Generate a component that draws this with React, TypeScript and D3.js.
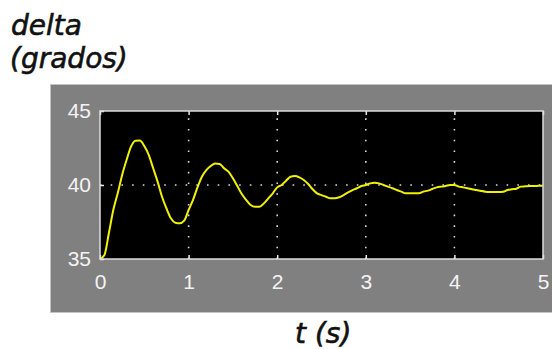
import React, { useEffect, useRef } from 'react';
import * as d3 from 'd3';

const STEP = 0.05;
const deltaValues = [
  35.0, 35.27, 36.74, 38.31, 39.44, 40.68, 41.69, 42.59, 42.99, 43.0,
  42.63, 42.03, 41.13, 40.23, 39.21, 38.42, 37.75, 37.45, 37.41, 37.59,
  38.31, 38.99, 39.84, 40.56, 41.01, 41.28, 41.46, 41.42, 41.13, 40.9,
  40.45, 39.93, 39.39, 38.99, 38.65, 38.53, 38.53, 38.76, 39.1, 39.44,
  39.84, 40.0, 40.29, 40.56, 40.6, 40.52, 40.34, 40.07, 39.71, 39.44,
  39.32, 39.21, 39.1, 39.1, 39.17, 39.32, 39.5, 39.66, 39.78, 39.93,
  40.0, 40.11, 40.16, 40.11, 40.0, 39.89, 39.78, 39.66, 39.55, 39.44,
  39.44, 39.44, 39.44, 39.55, 39.62, 39.73, 39.84, 39.89, 39.93, 40.0,
  40.0, 39.89, 39.84, 39.78, 39.71, 39.66, 39.6, 39.55, 39.53, 39.53,
  39.53, 39.55, 39.66, 39.71, 39.75, 39.89, 39.91, 39.93, 39.93, 39.95,
  39.95,
];
const xTicks = [0, 1, 2, 3, 4, 5];
const yTicks = [35, 40, 45];
const xGrid = [1, 2, 3, 4];
const yGrid = [40];

const width = 552;
const height = 349;
const plot = { left: 100, right: 543, top: 111, bottom: 259 };

const App = () => {
  const ref = useRef<SVGSVGElement>(null);

  useEffect(() => {
    const svg = d3.select(ref.current);
    svg.selectAll('*').remove();

    const x = d3.scaleLinear().domain([0, 5]).range([plot.left, plot.right]);
    const y = d3.scaleLinear().domain([35, 45]).range([plot.bottom, plot.top]);

    // gray figure panel
    svg.append('rect')
      .attr('x', 50.5).attr('y', 84.5)
      .attr('width', width - 50).attr('height', 312 - 84)
      .attr('fill', '#808080')
      .attr('stroke', '#c4c4c4').attr('stroke-width', 1);

    // black axes area
    svg.append('rect')
      .attr('x', plot.left).attr('y', plot.top)
      .attr('width', plot.right - plot.left).attr('height', plot.bottom - plot.top)
      .attr('fill', '#000');

    // dotted grid
    const grid = svg.append('g')
      .attr('stroke', '#d8d8d8')
      .attr('stroke-width', 1.6)
      .attr('stroke-dasharray', '1.6 9.1');
    grid.selectAll('.vgrid')
      .data(xGrid)
      .join('line')
      .attr('class', 'vgrid')
      .attr('x1', d => x(d)).attr('x2', d => x(d))
      .attr('y1', plot.bottom).attr('y2', plot.top);
    grid.selectAll('.hgrid')
      .data(yGrid)
      .join('line')
      .attr('class', 'hgrid')
      .attr('x1', plot.left).attr('x2', plot.right)
      .attr('y1', d => y(d)).attr('y2', d => y(d));

    // response curve
    const line = d3.line<number>()
      .x((_, i) => x(i * STEP))
      .y(d => y(d))
      .curve(d3.curveMonotoneX);
    svg.append('path')
      .datum(deltaValues)
      .attr('fill', 'none')
      .attr('stroke', '#f2f200')
      .attr('stroke-width', 2)
      .attr('stroke-linejoin', 'round')
      .attr('d', line);

    const styleAxis = (g: any) => {
      g.select('.domain').remove();
      g.selectAll('line').attr('stroke', '#e8e8e8').attr('stroke-width', 1.5);
      g.selectAll('text')
        .attr('fill', '#f4f4f4')
        .style('font-family', '"Liberation Sans", Arial, sans-serif')
        .style('font-size', '21px');
    };

    svg.append('g')
      .attr('transform', `translate(0,${plot.bottom})`)
      .call(d3.axisBottom(x).tickValues(xTicks).tickFormat(d3.format('d')).tickSizeInner(-4).tickSizeOuter(0).tickPadding(15))
      .call(styleAxis);
    svg.append('g')
      .attr('transform', `translate(0,${plot.top})`)
      .call(d3.axisTop(x).tickValues(xTicks).tickSizeInner(-4).tickSizeOuter(0).tickFormat(() => ''))
      .call(styleAxis);
    svg.append('g')
      .attr('transform', `translate(${plot.left},0)`)
      .call(d3.axisLeft(y).tickValues(yTicks).tickFormat(d3.format('d')).tickSizeInner(-4).tickSizeOuter(0).tickPadding(9))
      .call(styleAxis);

    // axes box
    svg.append('rect')
      .attr('x', plot.left).attr('y', plot.top)
      .attr('width', plot.right - plot.left).attr('height', plot.bottom - plot.top)
      .attr('fill', 'none')
      .attr('stroke', '#dcdcdc')
      .attr('stroke-width', 1.5);

    // labels
    const label = (txt: string, lx: number, ly: number) =>
      svg.append('text')
        .attr('x', lx).attr('y', ly)
        .attr('fill', '#111')
        .attr('stroke', '#111')
        .attr('stroke-width', 0.6)
        .style('font-family', '"DejaVu Sans", sans-serif')
        .style('font-style', 'italic')
        .style('font-size', '28px')
        .text(txt);
    label('delta', 11, 35);
    label('(grados)', 10, 68);
    label('t (s)', 295, 343);
  }, []);

  return (
    <svg
      ref={ref}
      width={width}
      height={height}
      style={{ position: 'absolute', left: 0, top: 0, background: '#fff' }}
    />
  );
};

export default App;
